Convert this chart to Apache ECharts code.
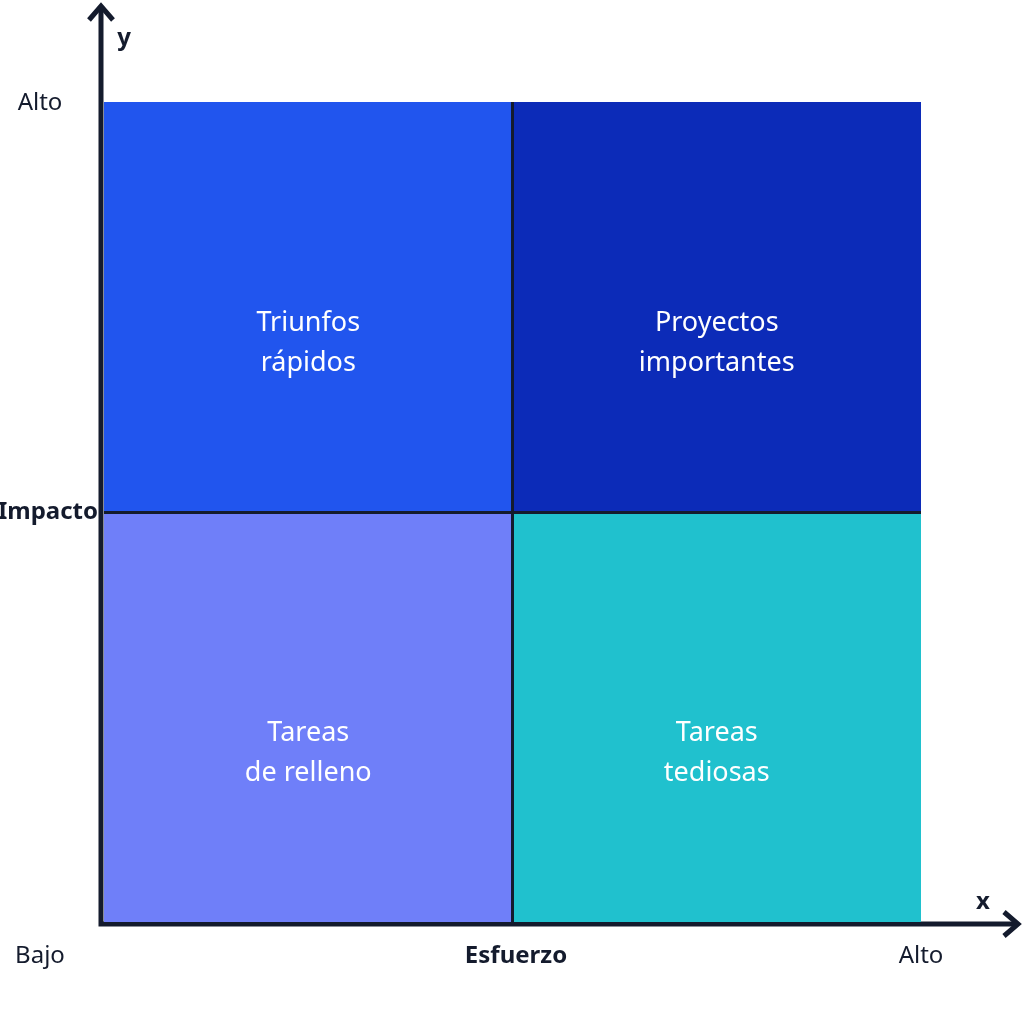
<!DOCTYPE html>
<html>
<head>
<meta charset="utf-8">
<script src="https://cdn.jsdelivr.net/npm/echarts@6/dist/echarts.min.js"></script>
<style>html,body{margin:0;padding:0;background:#fff}#chartWrap{width:1024px;height:1024px}</style>
</head>
<body>
<div id="chartWrap"></div>
<script>
// cuadrantes: columna (esfuerzo), fila (impacto), texto
var cellX = [0, 1, 0, 1];
var cellY = [1, 1, 0, 0];
var cellNames = ['Triunfos\nrápidos', 'Proyectos\nimportantes', 'Tareas\nde relleno', 'Tareas\ntediosas'];
var cellColors = ['#2155ee', '#0c2bb8', '#6f7ff9', '#20c1ce'];
var yTickLabels = ['Alto', 'Impacto'];
var xTickLabels = ['Bajo', 'Esfuerzo', 'Alto'];

var ink = '#141b2d';
var myChart = echarts.init(document.getElementById('chartWrap'));

var data = cellX.map(function (x, i) {
    return { value: [x, cellY[i]], name: cellNames[i], itemStyle: { color: cellColors[i] } };
});

var txt = function (x, y, s, bold, align) {
    return {
        type: 'text', x: x, y: y,
        style: {
            text: s, fill: ink, font: (bold ? 'bold ' : '') + '24px "Noto Sans"',
            align: align || 'center', verticalAlign: 'middle'
        }
    };
};

myChart.setOption({
    animation: false,
    grid: { left: 104, right: 103, top: 102, bottom: 102 },
    xAxis: { type: 'value', min: 0, max: 2, interval: 1, show: false },
    yAxis: { type: 'value', min: 0, max: 2, interval: 1, show: false },
    series: [{
        type: 'custom',
        data: data,
        renderItem: function (params, api) {
            var p0 = api.coord([api.value(0), api.value(1) + 1]);
            var p1 = api.coord([api.value(0) + 1, api.value(1)]);
            return {
                type: 'rect',
                shape: { x: p0[0], y: p0[1], width: p1[0] - p0[0], height: p1[1] - p0[1] },
                style: { fill: data[params.dataIndex].itemStyle.color },
                textContent: {
                    style: {
                        text: cellNames[params.dataIndex], fill: '#fff',
                        font: '27px "Noto Sans"', lineHeight: 40, align: 'center'
                    }
                },
                textConfig: { position: [(p1[0] - p0[0]) / 2, 201], origin: 'center' }
            };
        },
        markLine: {
            silent: true, symbol: 'none', label: { show: false },
            lineStyle: { color: ink, width: 3, type: 'solid' },
            data: [{ xAxis: 1 }, { yAxis: 1 }]
        }
    }],
    graphic: [
        { type: 'polyline', shape: { points: [[101, 8], [101, 924], [1016, 924]] },
          style: { stroke: ink, lineWidth: 5, fill: null } },
        { type: 'polyline', shape: { points: [[89, 20], [101, 6], [113, 20]] },
          style: { stroke: ink, lineWidth: 5, fill: null } },
        { type: 'polyline', shape: { points: [[1004, 912], [1018, 924], [1004, 936]] },
          style: { stroke: ink, lineWidth: 5, fill: null } },
        txt(124, 38, 'y', true),
        txt(983, 902, 'x', true),
        txt(40, 103, yTickLabels[0], false),
        txt(48, 512, yTickLabels[1], true),
        txt(40, 956, xTickLabels[0], false),
        txt(516, 956, xTickLabels[1], true),
        txt(921, 956, xTickLabels[2], false)
    ]
});
</script>
</body>
</html>
